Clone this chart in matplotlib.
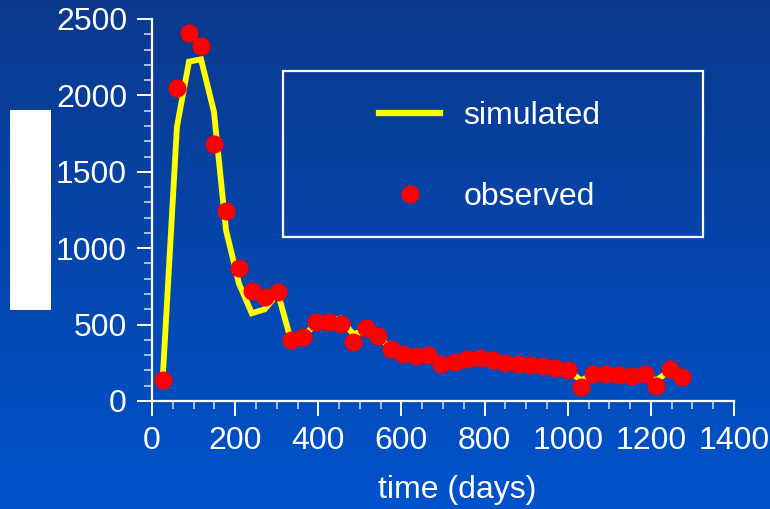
import numpy as np
import matplotlib
matplotlib.use("Agg")
import matplotlib.pyplot as plt
from matplotlib.patches import Rectangle
from matplotlib.lines import Line2D
from matplotlib.ticker import MultipleLocator

plt.rcParams["font.family"] = ["Liberation Sans", "DejaVu Sans"]

# data
days = [26, 60, 89, 118, 149, 178, 209, 240, 271, 303, 334, 363, 394, 425,
        454, 483, 514, 543, 574, 603, 634, 663, 696, 728, 758, 788, 820, 849,
        880, 909, 940, 970, 1001, 1032, 1062, 1093, 1124, 1154, 1185, 1213,
        1246, 1274]
observed = [137, 2048, 2408, 2323, 1682, 1243, 871, 721, 682, 713, 399, 416,
            518, 518, 504, 384, 480, 428, 340, 310, 294, 300, 244, 256, 275,
            280, 268, 251, 242, 236, 229, 214, 203, 94, 177, 175, 170, 164,
            175, 98, 207, 159]
simulated = [159, 1795, 2221, 2236, 1893, 1119, 770, 574, 600, 705, 400, 419,
             505, 525, 540, 440, 455, 420, 350, 318, 300, 295, 250, 255, 272,
             278, 268, 252, 243, 236, 228, 215, 200, 135, 175, 175, 170, 165,
             170, 135, 200, 160]

W, H = 770, 509
FS = 23
fig = plt.figure(figsize=(W / 100, H / 100), dpi=100)

# blue gradient background
bg = fig.add_axes([0, 0, 1, 1], zorder=-10)
top = np.array([0x0b, 0x39, 0x8c]) / 255
bottom = np.array([0x00, 0x53, 0xcc]) / 255
t = np.linspace(0, 1, 256)[:, None]
grad = top * (1 - t) + bottom * t
bg.imshow(grad[:, None, :].repeat(2, axis=1), aspect="auto", extent=[0, 1, 0, 1])
bg.set_axis_off()

ax = fig.add_axes([152 / W, 1 - 401 / H, (734 - 152) / W, (401 - 19) / H])
ax.patch.set_alpha(0)

ax.plot(days, simulated, color="#ffff00", lw=4.2, solid_joinstyle="miter",
        clip_on=False, zorder=3)
ax.plot(days, observed, "o", color="#ff0000", ms=13, mec="none",
        clip_on=False, zorder=4)

ax.set_xlim(0, 1400)
ax.set_ylim(0, 2500)
ax.xaxis.set_major_locator(MultipleLocator(200))
ax.xaxis.set_minor_locator(MultipleLocator(50))
ax.yaxis.set_major_locator(MultipleLocator(500))
ax.yaxis.set_minor_locator(MultipleLocator(100))

for side in ["top", "right"]:
    ax.spines[side].set_visible(False)
for side in ["left", "bottom"]:
    ax.spines[side].set_color("white")
    ax.spines[side].set_linewidth(1.6)

ax.tick_params(which="major", direction="out", length=11, width=1.4,
               color="white", labelcolor="white", labelsize=FS, pad=7)
ax.tick_params(which="minor", direction="out", length=5.5, width=1.2,
               color="#c8d4ee")

fig.text(457 / W, 1 - 490 / H, "time (days)", color="white", fontsize=FS,
         ha="center", va="center")

# legend with its own frame
fig.patches.append(Rectangle((283 / W, 1 - 237 / H), (703 - 283) / W,
                             (237 - 71) / H, transform=fig.transFigure,
                             fill=False, edgecolor="white", lw=1.6))
handles = [Line2D([], [], color="#ffff00", lw=4.5),
           Line2D([], [], marker="o", ls="none", color="#ff0000", ms=13,
                  mec="none")]
leg = fig.legend(handles, ["simulated", "observed"], loc="center",
                 bbox_to_anchor=(490 / W, 1 - 156.5 / H), frameon=False,
                 fontsize=FS, labelcolor="white", labelspacing=1.6,
                 handlelength=1.88, handletextpad=0.75, borderpad=0)

# white box over the y-axis title
fig.patches.append(Rectangle((10 / W, 1 - 310 / H), 41 / W, 200 / H,
                             transform=fig.transFigure, facecolor="white",
                             edgecolor="none"))

fig.savefig("out.png", dpi=100)
